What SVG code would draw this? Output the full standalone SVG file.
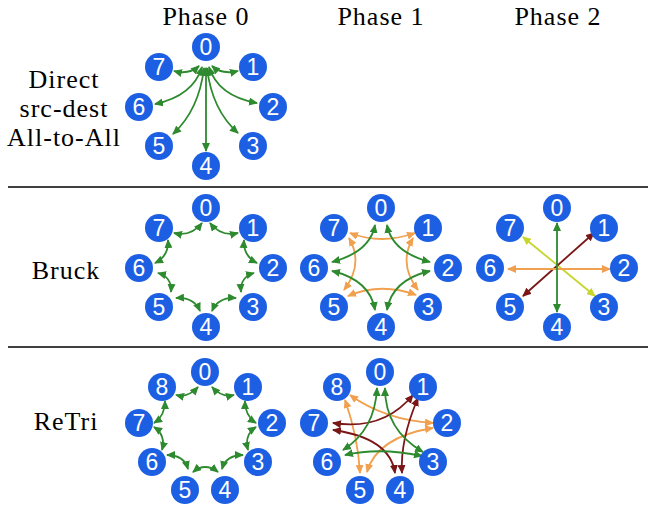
<svg xmlns="http://www.w3.org/2000/svg" width="649" height="506" viewBox="0 0 649 506">
<defs>
<style>
.lbl{font-family:"Liberation Serif","DejaVu Serif",serif;font-size:26px;letter-spacing:1px;fill:#000;text-anchor:middle}
.nd circle{fill:#1d5fe3}
.nd text{font-family:"Liberation Sans",Arial,sans-serif;font-size:23px;fill:#fff;text-anchor:middle}
.e{fill:none;stroke-width:1.8}
.g{stroke:#2e8a2e;marker-start:url(#ag);marker-end:url(#ag)}
.o{stroke:#f0a04e;marker-start:url(#ao);marker-end:url(#ao)}
.r{stroke:#7a1616;marker-start:url(#ar);marker-end:url(#ar)}
.y{stroke:#c6d62a;marker-start:url(#ay);marker-end:url(#ay)}
.sep{stroke:#000;stroke-width:1.3}
</style>
<marker id="ag" viewBox="0 0 9 8" refX="8" refY="4" markerWidth="9" markerHeight="8" markerUnits="userSpaceOnUse" orient="auto-start-reverse"><path d="M0,0 L9,4 L0,8 z" fill="#2e8a2e"/></marker>
<marker id="ao" viewBox="0 0 9 8" refX="8" refY="4" markerWidth="9" markerHeight="8" markerUnits="userSpaceOnUse" orient="auto-start-reverse"><path d="M0,0 L9,4 L0,8 z" fill="#f0a04e"/></marker>
<marker id="ar" viewBox="0 0 9 8" refX="8" refY="4" markerWidth="9" markerHeight="8" markerUnits="userSpaceOnUse" orient="auto-start-reverse"><path d="M0,0 L9,4 L0,8 z" fill="#7a1616"/></marker>
<marker id="ay" viewBox="0 0 9 8" refX="8" refY="4" markerWidth="9" markerHeight="8" markerUnits="userSpaceOnUse" orient="auto-start-reverse"><path d="M0,0 L9,4 L0,8 z" fill="#c6d62a"/></marker>
</defs>
<rect width="649" height="506" fill="#fff"/>

<g id="labels">
<text class="lbl" x="206" y="25">Phase 0</text>
<text class="lbl" x="381" y="25">Phase 1</text>
<text class="lbl" x="558" y="25">Phase 2</text>
<text class="lbl" x="64" y="88">Direct</text>
<text class="lbl" x="64" y="117">src-dest</text>
<text class="lbl" x="64" y="146">All-to-All</text>
<text class="lbl" x="66" y="279">Bruck</text>
<text class="lbl" x="66" y="430">ReTri</text>
</g>

<g id="separators">
<line class="sep" x1="8" y1="187" x2="648" y2="187"/>
<line class="sep" x1="8" y1="347" x2="648" y2="347"/>
</g>

<g id="connectors">
<g id="direct-p0">
<path class="e g" d="M212,66 Q222,75 238,71"/>
<path class="e g" d="M209,67 Q218,96 257,103"/>
<path class="e g" d="M207,68 Q212,110 238,133"/>
<path class="e g" d="M206,68 L206,151"/>
<path class="e g" d="M204,68 Q199,110 173,134"/>
<path class="e g" d="M202,67 Q193,96 155,104"/>
<path class="e g" d="M199,66 Q189,75 174,71"/>
</g>
<g id="bruck-p0">
<path class="e g" d="M210,223 Q221,237 238,233"/>
<path class="e g" d="M244,240 Q243,256 257,263"/>
<path class="e g" d="M254,273 Q240,277 241,292"/>
<path class="e g" d="M236,298 Q218,297 212,311"/>
<path class="e g" d="M200,311 Q194,297 176,298"/>
<path class="e g" d="M171,292 Q172,277 158,273"/>
<path class="e g" d="M155,263 Q169,256 168,240"/>
<path class="e g" d="M174,233 Q191,237 202,223"/>
</g>
<g id="bruck-p1" transform="translate(175,0)">
<path class="e o" d="M175,233 Q206,245 240,233"/>
<path class="e o" d="M238,238 Q223,264 243,290"/>
<path class="e o" d="M241,295 Q206,282 173,296"/>
<path class="e o" d="M169,290 Q189,264 174,238"/>
<path class="e g" d="M200,225 Q195,252 157,262"/>
<path class="e g" d="M212,225 Q217,252 255,262"/>
<path class="e g" d="M157,271 Q195,280 200,310"/>
<path class="e g" d="M255,271 Q217,280 212,310"/>
</g>
<g id="bruck-p2" transform="translate(351,0)">
<path class="e y" d="M172,237 L244,296"/>
<path class="e r" d="M172,296 L243,233"/>
<path class="e o" d="M157,269 L259,269"/>
<path class="e g" d="M206,223 L206,312"/>
</g>
<g id="retri-p0">
<path class="e g" d="M212,387 Q222,398 234,395"/>
<path class="e g" d="M245,401 Q245,416 256,423"/>
<path class="e g" d="M256,427 Q244,435 248,450"/>
<path class="e g" d="M243,455 Q226,455 222,469"/>
<path class="e g" d="M218,472 Q205,462 193,472"/>
<path class="e g" d="M188,469 Q184,455 167,455"/>
<path class="e g" d="M162,450 Q166,435 154,427"/>
<path class="e g" d="M154,423 Q165,416 165,401"/>
<path class="e g" d="M176,395 Q188,398 198,387"/>
</g>
<g id="retri-p1" transform="translate(175,0)">
<path class="e o" d="M175,395 Q210,420 258,423"/>
<path class="e o" d="M170,400 Q183,437 185,473"/>
<path class="e o" d="M192,472 Q202,437 258,428"/>
<path class="e r" d="M158,423 Q208,431 238,395"/>
<path class="e r" d="M158,430 Q215,438 220,473"/>
<path class="e r" d="M243,398 Q225,440 227,473"/>
<path class="e g" d="M202,388 Q200,430 168,450"/>
<path class="e g" d="M210,388 Q210,430 248,452"/>
<path class="e g" d="M170,455 Q205,447 247,456"/>
</g>
</g>

<g id="nodes-direct" class="nd">
<g id="d0"><circle cx="206" cy="47" r="14"/><text x="206" y="55.3">0</text></g>
<g id="d1"><circle cx="253" cy="67" r="14"/><text x="253" y="75.3">1</text></g>
<g id="d2"><circle cx="273" cy="107" r="14"/><text x="273" y="115.3">2</text></g>
<g id="d3"><circle cx="253" cy="146" r="14"/><text x="253" y="154.3">3</text></g>
<g id="d4"><circle cx="206" cy="166" r="14"/><text x="206" y="174.3">4</text></g>
<g id="d5"><circle cx="159" cy="146" r="14"/><text x="159" y="154.3">5</text></g>
<g id="d6"><circle cx="139" cy="107" r="14"/><text x="139" y="115.3">6</text></g>
<g id="d7"><circle cx="159" cy="67" r="14"/><text x="159" y="75.3">7</text></g>
</g>

<g id="nodes-bruck-p0" class="nd">
<g id="b0_0"><circle cx="206" cy="208" r="14"/><text x="206" y="216.3">0</text></g>
<g id="b0_1"><circle cx="253" cy="228" r="14"/><text x="253" y="236.3">1</text></g>
<g id="b0_2"><circle cx="273" cy="268" r="14"/><text x="273" y="276.3">2</text></g>
<g id="b0_3"><circle cx="253" cy="307" r="14"/><text x="253" y="315.3">3</text></g>
<g id="b0_4"><circle cx="206" cy="327" r="14"/><text x="206" y="335.3">4</text></g>
<g id="b0_5"><circle cx="159" cy="307" r="14"/><text x="159" y="315.3">5</text></g>
<g id="b0_6"><circle cx="139" cy="268" r="14"/><text x="139" y="276.3">6</text></g>
<g id="b0_7"><circle cx="159" cy="228" r="14"/><text x="159" y="236.3">7</text></g>
</g>

<g id="nodes-bruck-p1" class="nd" transform="translate(175,0)">
<g id="b1_0"><circle cx="206" cy="208" r="14"/><text x="206" y="216.3">0</text></g>
<g id="b1_1"><circle cx="253" cy="228" r="14"/><text x="253" y="236.3">1</text></g>
<g id="b1_2"><circle cx="273" cy="268" r="14"/><text x="273" y="276.3">2</text></g>
<g id="b1_3"><circle cx="253" cy="307" r="14"/><text x="253" y="315.3">3</text></g>
<g id="b1_4"><circle cx="206" cy="327" r="14"/><text x="206" y="335.3">4</text></g>
<g id="b1_5"><circle cx="159" cy="307" r="14"/><text x="159" y="315.3">5</text></g>
<g id="b1_6"><circle cx="139" cy="268" r="14"/><text x="139" y="276.3">6</text></g>
<g id="b1_7"><circle cx="159" cy="228" r="14"/><text x="159" y="236.3">7</text></g>
</g>

<g id="nodes-bruck-p2" class="nd" transform="translate(351,0)">
<g id="b2_0"><circle cx="206" cy="208" r="14"/><text x="206" y="216.3">0</text></g>
<g id="b2_1"><circle cx="253" cy="228" r="14"/><text x="253" y="236.3">1</text></g>
<g id="b2_2"><circle cx="273" cy="268" r="14"/><text x="273" y="276.3">2</text></g>
<g id="b2_3"><circle cx="253" cy="307" r="14"/><text x="253" y="315.3">3</text></g>
<g id="b2_4"><circle cx="206" cy="327" r="14"/><text x="206" y="335.3">4</text></g>
<g id="b2_5"><circle cx="159" cy="307" r="14"/><text x="159" y="315.3">5</text></g>
<g id="b2_6"><circle cx="139" cy="268" r="14"/><text x="139" y="276.3">6</text></g>
<g id="b2_7"><circle cx="159" cy="228" r="14"/><text x="159" y="236.3">7</text></g>
</g>

<g id="nodes-retri-p0" class="nd">
<g id="r0_0"><circle cx="205" cy="372" r="14"/><text x="205" y="380.3">0</text></g>
<g id="r0_1"><circle cx="248" cy="387" r="14"/><text x="248" y="395.3">1</text></g>
<g id="r0_2"><circle cx="272" cy="423" r="14"/><text x="272" y="431.3">2</text></g>
<g id="r0_3"><circle cx="258" cy="462" r="14"/><text x="258" y="470.3">3</text></g>
<g id="r0_4"><circle cx="225" cy="490" r="14"/><text x="225" y="498.3">4</text></g>
<g id="r0_5"><circle cx="185" cy="490" r="14"/><text x="185" y="498.3">5</text></g>
<g id="r0_6"><circle cx="152" cy="462" r="14"/><text x="152" y="470.3">6</text></g>
<g id="r0_7"><circle cx="139" cy="423" r="14"/><text x="139" y="431.3">7</text></g>
<g id="r0_8"><circle cx="162" cy="387" r="14"/><text x="162" y="395.3">8</text></g>
</g>

<g id="nodes-retri-p1" class="nd" transform="translate(175,0)">
<g id="r1_0"><circle cx="205" cy="372" r="14"/><text x="205" y="380.3">0</text></g>
<g id="r1_1"><circle cx="248" cy="387" r="14"/><text x="248" y="395.3">1</text></g>
<g id="r1_2"><circle cx="272" cy="423" r="14"/><text x="272" y="431.3">2</text></g>
<g id="r1_3"><circle cx="258" cy="462" r="14"/><text x="258" y="470.3">3</text></g>
<g id="r1_4"><circle cx="225" cy="490" r="14"/><text x="225" y="498.3">4</text></g>
<g id="r1_5"><circle cx="185" cy="490" r="14"/><text x="185" y="498.3">5</text></g>
<g id="r1_6"><circle cx="152" cy="462" r="14"/><text x="152" y="470.3">6</text></g>
<g id="r1_7"><circle cx="139" cy="423" r="14"/><text x="139" y="431.3">7</text></g>
<g id="r1_8"><circle cx="162" cy="387" r="14"/><text x="162" y="395.3">8</text></g>
</g>
</svg>
